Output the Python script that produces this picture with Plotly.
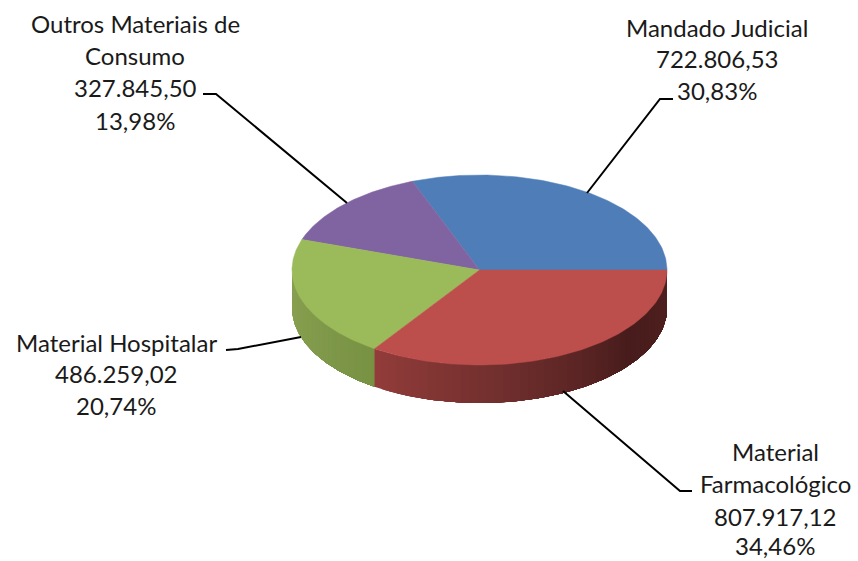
import numpy as np
import plotly.graph_objects as go

categories = ["Mandado Judicial", "Material Farmacológico", "Material Hospitalar", "Outros Materiais de Consumo"]
values = [722806.53, 807917.12, 486259.02, 327845.50]
value_labels = ["722.806,53", "807.917,12", "486.259,02", "327.845,50"]
pct_labels = ["30,83%", "34,46%", "20,74%", "13,98%"]
# drawing order around the pie, counter-clockwise from the right-hand side
ccw_order = [0, 3, 2, 1]
top_colors = ["#4F7DB8", "#BC4F4C", "#9BBA59", "#8064A1"]
side_stops = {
    1: [(0.0, (146, 60, 58)), (0.35, (110, 46, 45)), (0.7, (72, 28, 28)), (1.0, (80, 32, 32))],
    2: [(0.0, (138, 162, 82)), (1.0, (120, 146, 68))],
}

CX, CY, RX, RY, DEPTH = 479.5, 270.0, 187.5, 95.0, 38.0
W, H = 858, 561
total = sum(values)
fig = go.Figure()


def ell(a):
    return CX + RX * np.cos(a), CY - RY * np.sin(a)


def colour(stops, t):
    for (t0, c0), (t1, c1) in zip(stops, stops[1:]):
        if t <= t1:
            f = (t - t0) / (t1 - t0)
            r, g, b = [round(p + (q - p) * f) for p, q in zip(c0, c1)]
            return f"rgb({r},{g},{b})"
    return "rgb(%d,%d,%d)" % stops[-1][1]


# slice angle ranges, from the values
ranges = {}
angle = 0.0
for i in ccw_order:
    sweep = 2 * np.pi * values[i] / total
    ranges[i] = (angle, angle + sweep)
    angle += sweep

# side wall: visible only on the lower half of the ellipse
for i in ccw_order:
    a0, a1 = ranges[i]
    a0, a1 = max(a0, np.pi), min(a1, 2 * np.pi)
    if a1 <= a0 or i not in side_stops:
        continue
    n = 48
    edges = np.linspace(a0, a1, n + 1)
    for k in range(n):
        # every strip runs on to the end of the wall; the next one paints over it, so no seams show
        arc = np.linspace(edges[k], a1, max(4, 2 * (n - k)))
        x, y = ell(arc)
        px = np.concatenate([x, x[::-1]])
        py = np.concatenate([y, y[::-1] + DEPTH])
        col = colour(side_stops[i], (k + 0.5) / n)
        fig.add_trace(go.Scatter(x=px, y=py, mode="lines", fill="toself", fillcolor=col,
                                 line=dict(width=0), hoverinfo="skip", showlegend=False))

# top face
for i in ccw_order:
    a0, a1 = ranges[i]
    arc = np.linspace(a0, a1, 120)
    x, y = ell(arc)
    px = np.concatenate([[CX], x, [CX]])
    py = np.concatenate([[CY], y, [CY]])
    fig.add_trace(go.Scatter(x=px, y=py, mode="lines", fill="toself", fillcolor=top_colors[i],
                             line=dict(color=top_colors[i], width=0.5),
                             name=categories[i], text=categories[i], hoverinfo="text", showlegend=False))

# labels
label_layout = {
    0: (717, [("Mandado Judicial", 27), (value_labels[0], 58), (pct_labels[0], 90)]),
    1: (775, [("Material", 451), ("Farmacológico", 483), (value_labels[1], 516), (pct_labels[1], 545)]),
    2: (116, [("Material Hospitalar", 342), (value_labels[2], 373), (pct_labels[2], 405)]),
    3: (135, [("Outros Materiais de", 23), ("Consumo", 55), (value_labels[3], 87), (pct_labels[3], 120)]),
}
annotations = []
for i, (xc, rows) in label_layout.items():
    for txt, yc in rows:
        annotations.append(dict(x=xc, y=yc, text=txt, showarrow=False, xref="x", yref="y",
                                xanchor="center", yanchor="middle",
                                font=dict(family="Lato, Carlito, sans-serif", size=24, color="#1a1a1a")))

leaders = [
    [(203, 94), (216, 94), (347, 203)],
    [(673, 99), (660, 99), (587, 193)],
    [(226, 350), (238, 349), (301, 337)],
    [(563, 391), (680, 491), (692, 491)],
]
shapes = []
for pts in leaders:
    path = "M " + " L ".join(f"{a},{b}" for a, b in pts)
    shapes.append(dict(type="path", path=path, xref="x", yref="y",
                       line=dict(color="#000000", width=2)))

fig.update_layout(
    width=W, height=H, margin=dict(l=0, r=0, t=0, b=0),
    paper_bgcolor="white", plot_bgcolor="white", showlegend=False,
    xaxis=dict(range=[0, W], visible=False, fixedrange=True),
    yaxis=dict(range=[H, 0], visible=False, fixedrange=True),
    annotations=annotations, shapes=shapes,
)
fig.write_html("out.html", config={"displayModeBar": False},
               post_script="document.body.style.margin='0';document.body.style.overflow='hidden';")
